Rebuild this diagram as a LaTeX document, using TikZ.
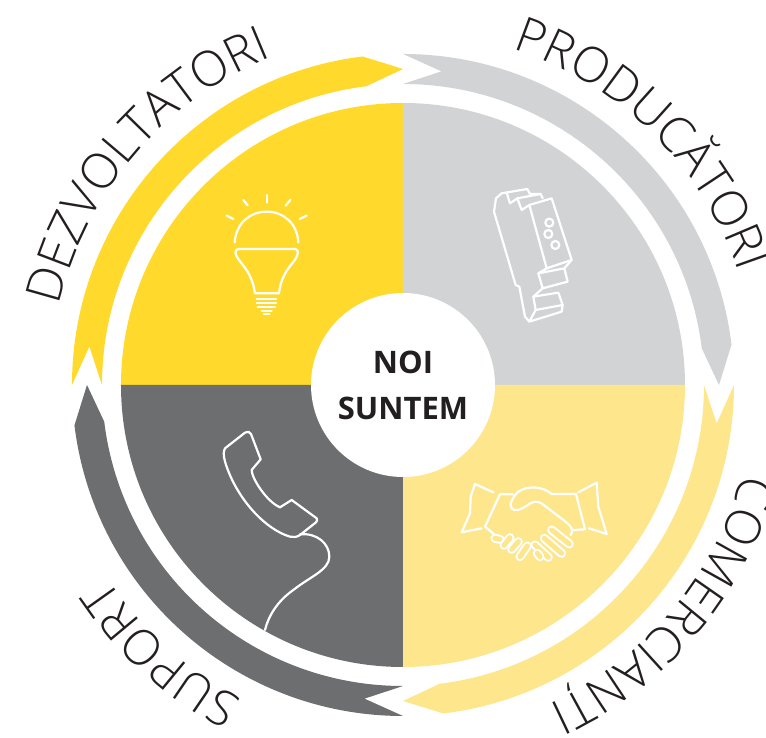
\documentclass[tikz,border=0pt]{standalone}
\usepackage{fontspec}
\setmainfont{Open Sans}
\newfontfamily\TagFont{Open Sans Light}
\usepackage{xcolor}
\definecolor{Color1}{RGB}{255,218,45}
\definecolor{Color2}{RGB}{209,211,212}
\definecolor{Color3}{RGB}{253,230,140}
\definecolor{Color4}{RGB}{109,110,112}
\definecolor{Ink}{RGB}{35,31,32}
\usetikzlibrary{decorations.text}
\tikzstyle{hub} = [circle, fill=white, text=Ink, align=center, minimum size=184pt,
    font=\fontsize{31}{46}\selectfont\bfseries]
\tikzstyle{tag} = [decorate, decoration={text along path, text align=center}]
\tikzstyle{icon} = [x=1pt/3, y=-1pt/3, draw=white, line width=2.2pt, line join=round, line cap=round]
\newcommand{\TagSize}[1]{\TagFont\addfontfeature{LetterSpace=#1}\fontsize{49}{49}\selectfont\color{Ink}}

\begin{document}
\begin{tikzpicture}[x=1pt, y=1pt]
  \useasboundingbox (-403,385) rectangle (363,-353);
  %
  \fill [Color1] (0,0) -- (180:282) arc[start angle=180, end angle=90, radius=282] -- cycle;
  \fill [Color2] (0,0) -- (90:282) arc[start angle=90, end angle=0, radius=282] -- cycle;
  \fill [Color3] (0,0) -- (0:282) arc[start angle=0, end angle=-90, radius=282] -- cycle;
  \fill [Color4] (0,0) -- (-90:282) arc[start angle=-90, end angle=-180, radius=282] -- cycle;
  %
  \foreach \Start/\Shade in {180/Color1, 90/Color2, 0/Color3, -90/Color4}
    \fill [\Shade] (\Start:331) arc[start angle=\Start, end angle=\Start-83, radius=331]
      -- ({\Start-90}:316) -- ({\Start-83}:301)
      arc[start angle=\Start-83, end angle=\Start, radius=301]
      -- ({\Start-7}:316) -- cycle;
  %
  \node [hub] (Hub) at (0,0) {NOI\\SUNTEM};
  %
  \path [tag, decoration={text={|\TagSize{7}|DEZVOLTATORI}}] (184.4:353) arc[start angle=184.4, end angle=94.4, radius=353];
  \path [tag, decoration={text={|\TagSize{14}|PRODUCĂTORI}}] (90.3:354) arc[start angle=90.3, end angle=0.3, radius=354];
  \path [tag, decoration={text={|\TagSize{10}|COMERCIANȚI}}] (4.9:351) arc[start angle=4.9, end angle=-85.1, radius=351];
  \path [tag, decoration={text={|\TagSize{16}|SUPORT}}] (-86.9:353) arc[start angle=-86.9, end angle=-176.9, radius=353];
  %
  % bulb
  \begin{scope}[shift={(-203,205)}, icon]
    \draw (201,45) -- (201,68);
    \draw (130,60) -- (143,76);
    \draw (271,60) -- (257,77);
    \draw (80,107) -- (100,117);
    \draw (320,107) -- (299,117);
    \draw (104,187) .. controls (108,130) and (150,95) .. (200,95) .. controls (250,95) and (292,130) .. (295,187);
    \draw (118,207) -- (283,207) .. controls (293,207) and (295,215) .. (292,225)
      .. controls (285,250) and (245,270) .. (237,340) -- (165,340)
      .. controls (155,270) and (118,250) .. (108,225) .. controls (104,215) and (108,207) .. (118,207) -- cycle;
    \draw (170,356) -- (228,356);
    \draw (170,368) -- (228,368);
    \draw (173,380) -- (225,380);
    \draw (185,392) -- (215,392);
    \draw (192,402) -- (208,402);
  \end{scope}
  %
  % din rail device
  \begin{scope}[shift={(67,215)}, icon]
    \draw (72,125) -- (78,85) -- (95,70) -- (172,57) -- (180,72) -- (212,72) -- (218,85);
    \draw (110,68) -- (120,100) -- (142,85) -- (155,120) -- (178,105) -- (245,85) -- (305,270) -- (230,295) -- (178,105);
    \draw (142,85) -- (212,72);
    \draw (72,125) -- (137,345) -- (148,350) -- (165,440) -- (178,455) -- (275,425) -- (278,405) -- (197,420) -- (178,455);
    \draw (230,295) -- (205,310) -- (283,295) -- (305,270);
    \draw (205,310) -- (218,355) -- (293,335) -- (283,295);
    \draw (218,355) -- (190,380) -- (265,368) -- (278,405);
    \draw (190,380) -- (197,420);
    \draw (238,158) circle[radius=12];
    \draw (235,192) circle[radius=12];
    \draw (256,225) circle[radius=12];
  \end{scope}
  %
  % handshake
  \begin{scope}[shift={(47,-85)}, icon]
    \draw (130,67) -- (75,42) -- (62,80) -- (60,130) -- (35,187) -- (95,175);
    \draw (385,67) -- (440,38) -- (445,110) -- (470,192) -- (417,175);
    \draw (188,73) -- (150,73) -- (105,170) -- (135,195);
    \draw (305,72) -- (378,72) -- (405,178) -- (370,180);
    \draw (305,72) .. controls (280,50) and (235,45) .. (205,65) .. controls (190,78) and (175,105) .. (185,115)
      .. controls (200,130) and (225,110) .. (245,98) .. controls (260,92) and (270,95) .. (285,108)
      -- (340,150) .. controls (360,165) and (375,180) .. (362,195);
    \foreach \Xa/\Ya/\Xb/\Yb in {305/180/358/222, 283/205/335/250, 255/225/295/262, 135/205/150/208, 180/203/162/226,
        205/215/185/238, 232/228/210/260, 262/250/270/260}
      {
      \draw [line width=9pt] (\Xa,\Ya) -- (\Xb,\Yb);
      \draw [Color3, line width=5pt] (\Xa,\Ya) -- (\Xb,\Yb);
      }
  \end{scope}
  %
  % telephone
  \begin{scope}[shift={(-193,-35)}, icon]
    \draw (45,85) -- (105,38) .. controls (112,33) and (120,35) .. (123,42) -- (152,118)
      -- (125,150) .. controls (125,175) and (170,245) .. (210,262) -- (245,240) -- (320,295)
      .. controls (322,300) and (322,303) .. (318,307) -- (270,345) .. controls (260,352) and (250,352) .. (240,350)
      .. controls (170,330) and (80,240) .. (45,125) .. controls (40,105) and (40,95) .. (45,85) -- cycle;
    \draw (270,343) .. controls (320,338) and (358,370) .. (358,410)
      .. controls (358,450) and (300,470) .. (250,510) .. controls (200,545) and (175,590) .. (165,630);
  \end{scope}
\end{tikzpicture}
\end{document}
